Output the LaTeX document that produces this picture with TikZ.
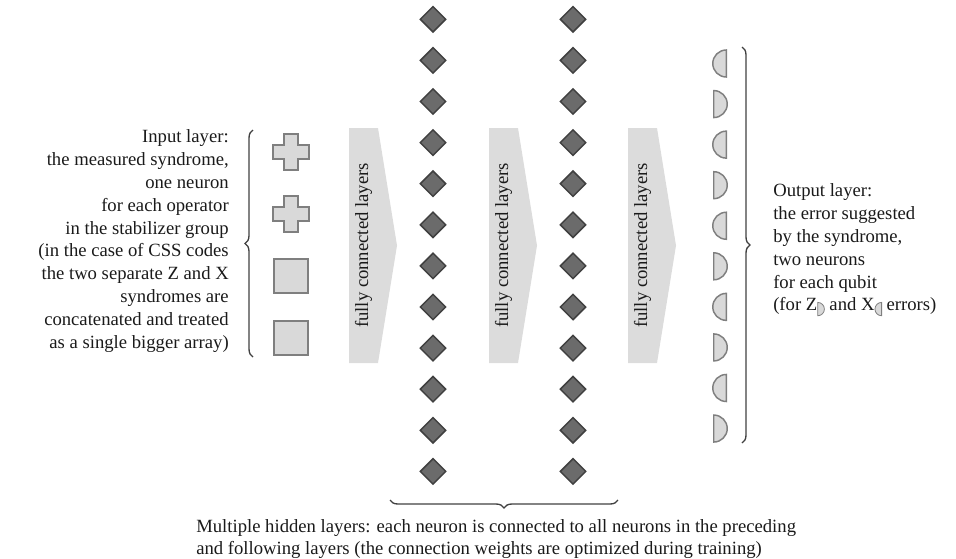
\documentclass[tikz,border=0pt]{standalone}
\usepackage{fontspec}
\setmainfont{Liberation Serif}
\usetikzlibrary{shapes.geometric,decorations.pathreplacing}
\definecolor{neufill}{HTML}{D9D9D9}
\definecolor{neudraw}{HTML}{7F7F7F}
\definecolor{hidfill}{HTML}{6B6B6B}
\definecolor{hiddraw}{HTML}{404040}
\definecolor{bandfill}{HTML}{DCDCDC}
\definecolor{bracecol}{HTML}{404040}
\definecolor{txt}{HTML}{1A1A1A}
% small half-disk marks used as subscripts in the output description
\newcommand\halfdiskright{\raisebox{-4pt}{\tikz\draw[fill=neufill,draw=neudraw,line width=0.6pt] (0pt,0pt) -- (0pt,10pt) arc[start angle=90,end angle=-90,radius=5pt] -- cycle;}}
\newcommand\halfdiskleft{\raisebox{-4pt}{\tikz\draw[fill=neufill,draw=neudraw,line width=0.6pt] (0pt,0pt) -- (0pt,10pt) arc[start angle=90,end angle=270,radius=5pt] -- cycle;}}
\begin{document}
\begin{tikzpicture}[x=0.75pt,y=-0.75pt,
  desc/.style={font=\fontsize{14}{17.1}\selectfont, text=txt, inner sep=0pt},
  inneuron/.style={fill=neufill, draw=neudraw, line width=1.5pt, line join=miter},
  inbox/.style={inneuron, rectangle, minimum size=25.9pt, inner sep=0pt},
  hidden/.style={diamond, aspect=1, fill=hidfill, draw=hiddraw, line width=1.1pt,
    minimum width=19.5pt, minimum height=19.5pt, inner sep=0pt},
  outneuron/.style={semicircle, fill=neufill, draw=neudraw, line width=1.1pt,
    minimum width=20.25pt, minimum height=10.1pt, inner sep=0pt, anchor=chord center},
  band/.style={fill=bandfill},
  layerbrace/.style={draw=bracecol, line width=1pt,
    decorate, decoration={brace, amplitude=6pt}},
  crossneuron/.pic={
    \draw[inneuron] (-7,-18) -- (7,-18) -- (7,-7) -- (18,-7) -- (18,7) -- (7,7)
      -- (7,18) -- (-7,18) -- (-7,7) -- (-18,7) -- (-18,-7) -- (-7,-7) -- cycle;
    \coordinate (-c) at (0,0);
  }]
\useasboundingbox (0,0) rectangle (956,558);

% input layer
\pic (in1) at (291,152) {crossneuron};
\pic (in2) at (291,214) {crossneuron};
\node[inbox] (in3) at (291,276) {};
\node[inbox] (in4) at (291,338) {};

% fully connected bands
\foreach \xx/\n in {349/1,489/2,628/3}{
  \fill[band] (\xx,128) -- ++(29,0) -- ++(19,117.5) -- ++(-19,117.5) -- ++(-29,0) -- cycle;
  \node[desc, rotate=90] (fc\n) at (\xx+14.5,245.5) {fully connected layers};
}

% hidden layers
\foreach \i in {0,...,11}{
  \node[hidden] (ha\i) at (433,{19.3+41.1*\i}) {};
  \node[hidden] (hb\i) at (573,{19.3+41.1*\i}) {};
}

% output layer: pairs of half disks
\foreach \i in {0,...,9}{
  \pgfmathtruncatemacro\odd{mod(\i,2)}
  \ifnum\odd=0
    \node[outneuron, rotate=90] (out\i) at (727,{63.5+40.56*\i}) {};
  \else
    \node[outneuron, rotate=-90] (out\i) at (713,{63.5+40.56*\i}) {};
  \fi
}

% braces
\draw[layerbrace] (253,357) -- (253,130);
\draw[layerbrace] (742,47) -- (742,443);
\draw[layerbrace] (618,500) -- (390,500);

% descriptions
\node[desc, align=right, anchor=east] (intext) at (229,241) {Input layer:\\
the measured syndrome,\\
one neuron\\
for each operator\\
in the stabilizer group\\
(in the case of CSS codes\\
the two separate Z and X\\
syndromes are\\
concatenated and treated\\
as a single bigger array)};

\node[desc, align=left, anchor=west] (outtext) at (773,250) {Output layer:\\
the error suggested\\
by the syndrome,\\
two neurons\\
for each qubit\\
(for Z\halfdiskright{} and X\halfdiskleft{} errors)};

\node[desc, align=left, anchor=west] (hidtext) at (196,539) {Multiple hidden layers: each neuron is connected to all neurons in the preceding\\
and following layers (the connection weights are optimized during training)};
\end{tikzpicture}
\end{document}
